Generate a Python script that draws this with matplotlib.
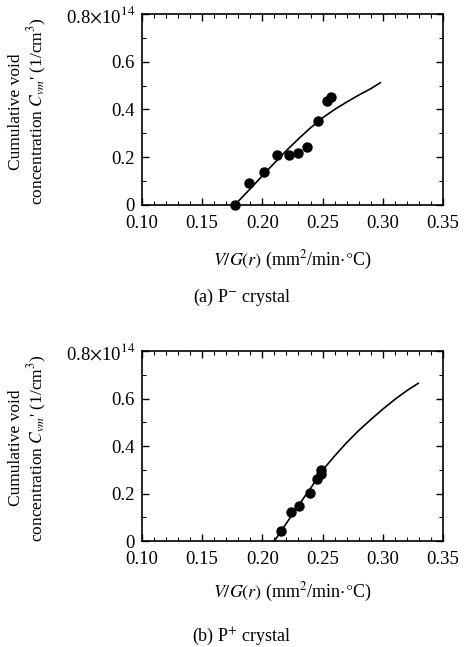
import numpy as np
import matplotlib
matplotlib.use('Agg')
import matplotlib.pyplot as plt
from matplotlib.ticker import MultipleLocator, FixedLocator, FixedFormatter

plt.rcParams['font.family'] = ['Liberation Serif', 'DejaVu Serif']
plt.rcParams['mathtext.fontset'] = 'stix'

# (a) P- crystal
xa_pts = [0.177, 0.189, 0.201, 0.212, 0.222, 0.230, 0.237, 0.246, 0.254, 0.257]
ya_pts = [0.0, 0.091, 0.139, 0.209, 0.209, 0.219, 0.242, 0.353, 0.436, 0.451]
xa_fit = [0.177, 0.19, 0.20, 0.21, 0.22, 0.23, 0.24, 0.25, 0.26, 0.27, 0.28, 0.29, 0.298]
ya_fit = [0.0, 0.068, 0.122, 0.176, 0.228, 0.277, 0.323, 0.365, 0.400, 0.431, 0.460, 0.487, 0.512]

# (b) P+ crystal
xb_pts = [0.2155, 0.2238, 0.2304, 0.2398, 0.2451, 0.2489, 0.2489]
yb_pts = [0.043, 0.121, 0.147, 0.203, 0.262, 0.282, 0.300]
xb_fit = [0.210, 0.22, 0.23, 0.24, 0.25, 0.26, 0.27, 0.28, 0.29, 0.30, 0.31, 0.32, 0.3295]
yb_fit = [0.0, 0.075, 0.150, 0.222, 0.298, 0.358, 0.414, 0.465, 0.511, 0.555, 0.596, 0.633, 0.664]

ytick_vals = [0, 0.2, 0.4, 0.6, 0.8]
ytick_labels = ['0', '0.2', '0.4', '0.6', r'0.8$\times$10$^{14}$']
xtick_vals = [0.10, 0.15, 0.20, 0.25, 0.30, 0.35]
xtick_labels = ['0.10', '0.15', '0.20', '0.25', '0.30', '0.35']

fig = plt.figure(figsize=(4.67, 6.47), dpi=100)

# rect, caption, caption y, xlabel y
panels = [
    (xa_pts, ya_pts, xa_fit, ya_fit, [0.304, 0.6832, 0.6445, 0.2952], '(a) P$^{-}$ crystal', 0.541, 0.598),
    (xb_pts, yb_pts, xb_fit, yb_fit, [0.304, 0.1638, 0.6445, 0.2937], '(b) P$^{+}$ crystal', 0.016, 0.085),
]

for xp, yp, xf, yf, rect, caption, cy, ly in panels:
    ax = fig.add_axes(rect)
    ax.plot(xf, yf, color='black', lw=1.2)
    ax.plot(xp, yp, 'o', color='black', ms=6.5, clip_on=False, zorder=3)
    ax.set_xlim(0.10, 0.35)
    ax.set_ylim(0, 0.8)
    ax.xaxis.set_major_locator(FixedLocator(xtick_vals))
    ax.xaxis.set_major_formatter(FixedFormatter(xtick_labels))
    ax.xaxis.set_minor_locator(MultipleLocator(0.01))
    ax.yaxis.set_major_locator(FixedLocator(ytick_vals))
    ax.yaxis.set_major_formatter(FixedFormatter(ytick_labels))
    ax.yaxis.set_minor_locator(MultipleLocator(0.1))
    ax.tick_params(which='both', direction='in', top=True, right=True, labelsize=13.5)
    ax.tick_params(axis='x', pad=7.5)
    ax.tick_params(axis='y', pad=5)
    ax.tick_params(which='major', length=5, width=1)
    ax.tick_params(which='minor', length=3, width=0.8)
    for s in ax.spines.values():
        s.set_linewidth(1.2)
    fig.text(0.626, ly, r'$V/G(r)$ (mm$^2$/min$\cdot$$\degree$C)', ha='center', va='center', fontsize=13)
    y0 = rect[1] + rect[3] / 2 - 0.003
    fig.text(0.062, y0, "Cumulative void\nconcentration $C_{vm}$' (1/cm$^3$)",
             rotation=90, ha='center', va='center', fontsize=12.5, multialignment='center',
             linespacing=1.1)
    fig.text(0.518, cy, caption, ha='center', va='center', fontsize=13)

plt.savefig('out.png', dpi=100)
